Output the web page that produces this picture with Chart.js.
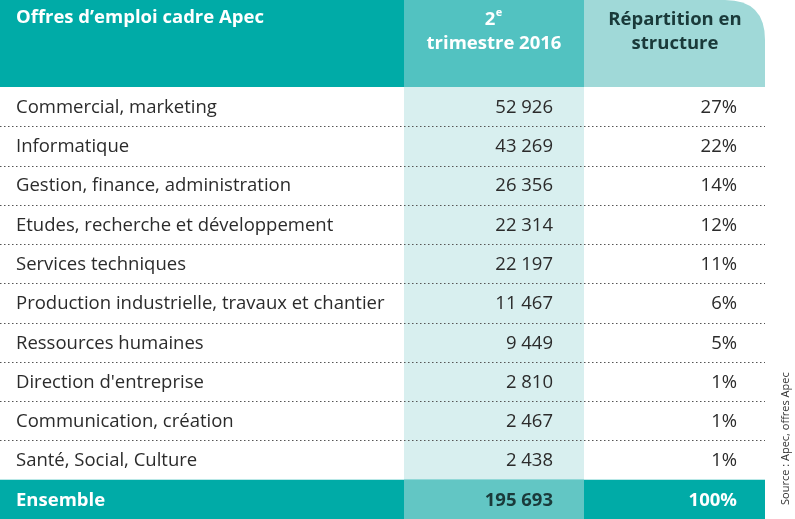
<!DOCTYPE html>
<html><head><meta charset="utf-8">
<script src="https://cdn.jsdelivr.net/npm/chart.js@4/dist/chart.umd.min.js"></script>
<style>html,body{margin:0;padding:0;background:#fff}#w{width:795px;height:519px}</style>
</head><body><div id="w"><canvas id="c"></canvas></div>
<script>
const categories = ["Commercial, marketing","Informatique","Gestion, finance, administration","Etudes, recherche et développement","Services techniques","Production industrielle, travaux et chantier","Ressources humaines","Direction d'entreprise","Communication, création","Santé, Social, Culture","Ensemble"];
const offers = [52926,43269,26356,22314,22197,11467,9449,2810,2467,2438,195693];
const shares = [27,22,14,12,11,6,5,1,1,1,100];
const headers = ["Offres d’emploi cadre Apec","trimestre 2016","Répartition en","structure"];
const source = "Source : Apec, offres Apec";

const fmt = v => String(v).replace(/\B(?=(\d{3})+(?!\d))/g, " ");
const FONT = '"Open Sans", sans-serif';
const C1 = 404, C2 = 584, C3 = 765;

const tablePlugin = {
  id: 'table',
  beforeDatasetsDraw(chart) {
    const ctx = chart.ctx, y = chart.scales.y, n = categories.length;
    const band = (y.getPixelForValue(1) - y.getPixelForValue(0));
    const top0 = y.getPixelForValue(0) - band/2;
    ctx.save();
    ctx.fillStyle = '#00aba7';
    ctx.fillRect(0, 0, C1, top0);
    ctx.fillStyle = '#52c2c1';
    ctx.fillRect(C1, 0, C2-C1, top0);
    ctx.fillStyle = '#a0d9d8';
    ctx.beginPath();
    ctx.moveTo(C2, 0); ctx.lineTo(C3-40, 0);
    ctx.quadraticCurveTo(C3, 0, C3, 40);
    ctx.lineTo(C3, top0); ctx.lineTo(C2, top0); ctx.closePath(); ctx.fill();
    ctx.fillStyle = '#d8efef';
    ctx.fillRect(C1, top0, C2-C1, band*(n-1));
    const tt = y.getPixelForValue(n-1) - band/2;
    ctx.fillStyle = '#00aba7';
    ctx.fillRect(0, tt, C3, chart.height - tt);
    ctx.fillStyle = '#62c6c4';
    ctx.fillRect(C1, tt, C2-C1, chart.height - tt);
    ctx.strokeStyle = '#555'; ctx.lineWidth = 1.2; ctx.setLineDash([1.5,2.5]);
    for (let i = 0; i < n-2; i++) {
      const yy = Math.round(y.getPixelForValue(i) + band/2) + 0.5;
      ctx.beginPath(); ctx.moveTo(0, yy); ctx.lineTo(C3, yy); ctx.stroke();
    }
    ctx.setLineDash([]);
    ctx.fillStyle = '#fff'; ctx.textBaseline = 'middle';
    ctx.font = 'bold 18.5px ' + FONT; ctx.textAlign = 'left';
    ctx.fillText(headers[0], 16, 18);
    ctx.textAlign = 'center';
    ctx.fillText('2', 490, 20);
    ctx.font = 'bold 11px ' + FONT; ctx.fillText('e', 499, 13);
    ctx.font = 'bold 18.5px ' + FONT;
    ctx.fillText(headers[1], 494, 44);
    ctx.fillStyle = '#1a3a3a';
    ctx.fillText(headers[2], 675, 20);
    ctx.fillText(headers[3], 675, 44);
    for (let i = 0; i < n; i++) {
      const yy = y.getPixelForValue(i) + 1;
      const last = i === n-1;
      ctx.fillStyle = last ? '#fff' : '#2b2b2b';
      ctx.font = (last ? 'bold ' : '') + '18.5px ' + FONT;
      ctx.textAlign = 'left';
      ctx.fillText(categories[i], 16, yy);
      ctx.textAlign = 'right';
      ctx.fillStyle = last ? '#1a3a3a' : '#2b2b2b';
      ctx.fillText(fmt(offers[i]), 553, yy);
      ctx.fillStyle = last ? '#fff' : '#2b2b2b';
      ctx.fillText(shares[i] + '%', 737, yy);
    }
    ctx.save();
    ctx.translate(786, 505); ctx.rotate(-Math.PI/2);
    ctx.font = '11px ' + FONT; ctx.fillStyle = '#333'; ctx.textAlign = 'left';
    ctx.fillText(source, 0, 0);
    ctx.restore();
    ctx.restore();
  }
};

new Chart(document.getElementById('c'), {
  type: 'bar',
  data: { labels: categories, datasets: [{ data: offers, backgroundColor: 'rgba(0,0,0,0)' }] },
  options: {
    responsive: true, maintainAspectRatio: false, animation: false,
    indexAxis: 'y',
    layout: { padding: { top: 87, bottom: 0, left: 0, right: 0 } },
    plugins: { legend: { display: false }, tooltip: { enabled: false } },
    scales: { y: { display: false }, x: { display: false } }
  },
  plugins: [tablePlugin]
});
</script></body></html>
